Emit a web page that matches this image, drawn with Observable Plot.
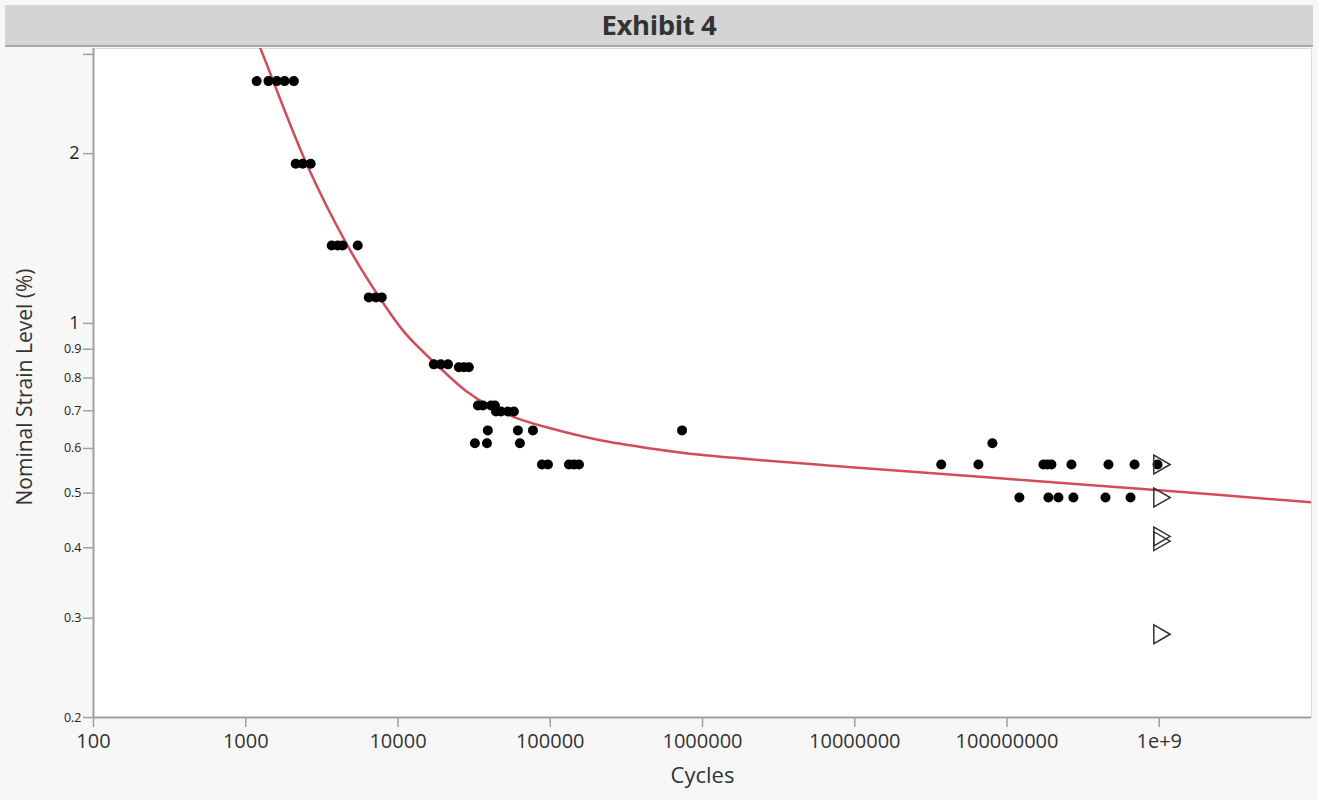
<!DOCTYPE html>
<html><head><meta charset="utf-8">
<script src="https://cdn.jsdelivr.net/npm/d3@7"></script>
<script src="https://cdn.jsdelivr.net/npm/@observablehq/plot@0.6"></script>
<style>
body{margin:0;background:#f7f7f7;font-family:"Open Sans","Noto Sans",sans-serif;}
#wrap{position:relative;width:1318px;height:800px;overflow:hidden;background:#f7f7f7}
#title{position:absolute;left:5px;top:5px;width:1308px;height:40px;background:#d4d4d4;border-bottom:2px solid #a8a8a8;text-align:center;font-weight:bold;font-size:27.5px;line-height:40px;color:#333;letter-spacing:-0.4px}
#chart{position:absolute;left:0;top:47px}
</style></head>
<body><div id="wrap"><div id="title">Exhibit 4</div><div id="chart"></div></div>
<script>
// Failures (cycles, strain %)
const failCycles = [
  1180, 1410, 1600, 1800, 2070,
  2130, 2370, 2670,
  3670, 4020, 4330, 5440,
  6430, 7150, 7820,
  17200, 19100, 21300,
  25100, 27100, 29200,
  33500, 36100, 40800, 43300,
  44000, 47400, 52700, 57700,
  38900, 61300, 77000, 734000,
  32000, 38400, 63200,
  88200, 96600, 132700, 143200, 154400,
  80.2e6,
  37.0e6, 64.9e6, 173.5e6, 184.3e6, 195.8e6, 265e6, 464e6, 688e6, 974e6,
  120.6e6, 187e6, 217.7e6, 273e6, 443.6e6, 647.6e6
];
const failStrain = [
  2.69, 2.69, 2.69, 2.69, 2.69,
  1.92, 1.92, 1.92,
  1.375, 1.375, 1.375, 1.375,
  1.112, 1.112, 1.112,
  0.846, 0.846, 0.846,
  0.836, 0.836, 0.836,
  0.715, 0.715, 0.715, 0.715,
  0.698, 0.698, 0.698, 0.698,
  0.646, 0.646, 0.646, 0.646,
  0.613, 0.613, 0.613,
  0.562, 0.562, 0.562, 0.562, 0.562,
  0.613,
  0.562, 0.562, 0.562, 0.562, 0.562, 0.562, 0.562, 0.562, 0.562,
  0.491, 0.491, 0.491, 0.491, 0.491, 0.491
];
// Run-outs (censored)
const runoutCycles = [1e9, 1e9, 1e9, 1e9, 1e9];
const runoutStrain = [0.562, 0.491, 0.419, 0.411, 0.281];
// Fitted curve
const fitCycles = [1141, 1249, 2503, 4654, 7549, 11180, 18140, 27700, 40440, 60810, 100200, 213300, 454300, 967400, 1e7, 9.02e7, 1e9, 1e10];
const fitStrain = [3.253, 3.073, 1.9214, 1.3751, 1.112, 0.960, 0.8425, 0.7606, 0.7125, 0.6786, 0.6515, 0.6203, 0.6002, 0.5846, 0.5553, 0.5312, 0.5058, 0.4817];
// Ticks
const xTicks = [100, 1e3, 1e4, 1e5, 1e6, 1e7, 1e8, 1e9];
const xTickLabels = ["100", "1000", "10000", "100000", "1000000", "10000000", "100000000", "1e+9"];
const yMinorTicks = [0.2, 0.3, 0.4, 0.5, 0.6, 0.7, 0.8, 0.9];
const yMinorLabels = ["0.2", "0.3", "0.4", "0.5", "0.6", "0.7", "0.8", "0.9"];
const yMajorTicks = [1, 2, 3];
const yMajorLabels = ["1", "2", ""];

const fails = failCycles.map((c, i) => ({c, s: failStrain[i]}));
const runouts = runoutCycles.map((c, i) => ({c, s: runoutStrain[i]}));
const fit = fitCycles.map((c, i) => ({c, s: fitStrain[i]}));

const plot = Plot.plot({
  width: 1318, height: 753,
  marginTop: 1, marginLeft: 93, marginRight: 7, marginBottom: 83,
  style: {background: "transparent", fontFamily: "'Open Sans','Noto Sans',sans-serif", color: "#333"},
  x: {type: "log", domain: [100, 1e10]},
  y: {type: "log", domain: [0.2, 3.073]},
  marks: [
    Plot.frame({fill: "white", stroke: "#dcdcdc"}),
    Plot.line(fit, {x: "c", y: "s", stroke: "#d24d5b", strokeWidth: 2.5, curve: "catmull-rom", clip: true}),
    Plot.dot(fails, {x: "c", y: "s", r: 5, fill: "black"}),
    Plot.dot(runouts, {x: "c", y: "s", r: 7, symbol: "triangle", rotate: 90, fill: "none", stroke: "#333", strokeWidth: 1.5}),
    Plot.axisX(xTicks, {tickFormat: d => xTickLabels[xTicks.indexOf(d)], tickSize: 10, tickPadding: 6, fontSize: 20, stroke: "#a0a0a0", strokeWidth: 1.5, fill: "#333", label: null}),
    Plot.axisY(yMinorTicks, {tickFormat: d => yMinorLabels[yMinorTicks.indexOf(d)], tickSize: 10, tickPadding: 2, fontSize: 12.5, stroke: "#a0a0a0", strokeWidth: 1.5, fill: "#222", label: null}),
    Plot.axisY(yMajorTicks, {tickFormat: d => yMajorLabels[yMajorTicks.indexOf(d)], tickSize: 10, tickPadding: 4, fontSize: 18, stroke: "#a0a0a0", strokeWidth: 1.5, fill: "#222", label: null}),
    Plot.ruleX([100], {stroke: "#a0a0a0", strokeWidth: 2}),
    Plot.ruleY([0.2], {stroke: "#a0a0a0", strokeWidth: 2}),
    Plot.text(["Nominal Strain Level (%)"], {frameAnchor: "left", dx: -68, dy: 4, rotate: -90, textAnchor: "middle", fontSize: 21, fill: "#333"}),
    Plot.text(["Cycles"], {frameAnchor: "bottom", dy: 65, fontSize: 22, fill: "#333"})
  ]
});
document.getElementById("chart").appendChild(plot);
</script>
</body></html>
